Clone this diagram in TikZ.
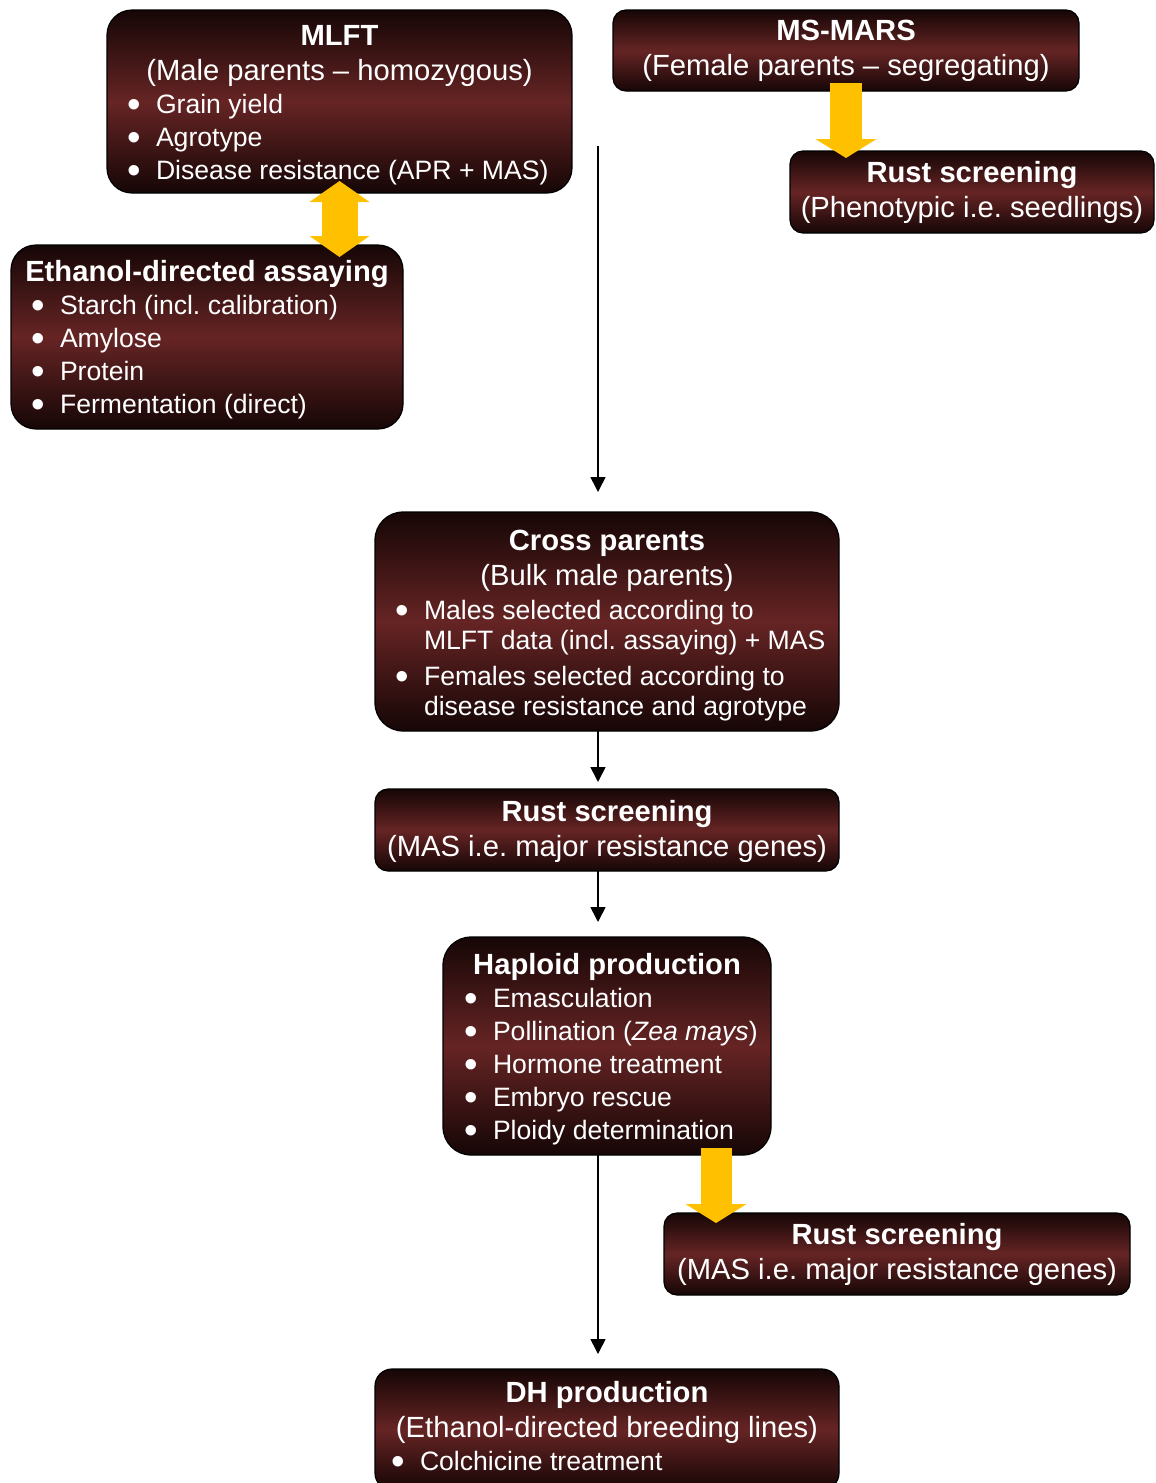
\documentclass[tikz,border=0pt]{standalone}
\usepackage{fontspec}
\usepackage{graphicx}
\setmainfont{Liberation Sans}
\usetikzlibrary{arrows.meta,positioning,calc}

\definecolor{boxdark}{RGB}{22,6,6}
\definecolor{boxred}{RGB}{102,36,36}
\definecolor{arrowgold}{RGB}{255,192,0}

% lines inside the boxes
\newcommand{\itemskip}{33pt}
\newcommand{\wordgap}{\frenchspacing\spaceskip=.278em plus .1em\relax\xspaceskip=\spaceskip}
\newcommand{\boxhead}[1]{{\centering\fontsize{29.2}{34.5}\selectfont\wordgap\bfseries #1\par}}
\newcommand{\boxsub}[1]{{\centering\fontsize{29.2}{34.5}\selectfont\wordgap #1\par}}
\newcommand{\bitem}[2][20pt]{{\raggedright\leftskip=#1\relax\hangindent=28pt\hangafter=1
	\fontsize{26.6}{\itemskip}\selectfont\wordgap
	\noindent\makebox[28pt][l]{\hspace{-1pt}\smash{\raisebox{-4pt}{\scalebox{1.45}{\textbullet}}}}#2\par}}

\tikzset{
	stage/.style={draw=black,line width=1.2pt,rounded corners=25pt,
		top color=boxdark,bottom color=boxdark,middle color=boxred,
		text=white,inner xsep=0pt,inner ysep=0pt,outer sep=0pt,anchor=north west},
	flow/.style={line width=1.6pt,-{Triangle[width=15pt,length=15pt]}},
	bigarrow/.style={arrowgold,line width=32pt},
	goldtip/.tip={Triangle[width=61pt,length=19pt,line width=0pt]},
	twintip/.tip={Triangle[width=60pt,length=21pt,line width=0pt]}
}

\begin{document}
\begin{tikzpicture}[x=1pt,y=-1pt]

	\useasboundingbox (0,0) rectangle (1156,1483);

	\node[stage,text width=465pt,text height=35.5pt,text depth=147.5pt] (mlft) at (107,10) {%
		\boxhead{MLFT}
		\boxsub{(Male parents – homozygous)}
		\bitem[21pt]{Grain yield}
		\bitem[21pt]{Agrotype}
		\bitem[21pt]{Disease resistance (APR + MAS)}};

	\node[stage,rounded corners=13pt,text width=466pt,text height=30.5pt,text depth=50.5pt] (msmars) at (613,10) {%
		\boxhead{MS-MARS}
		\boxsub{(Female parents – segregating)}};

	\node[stage,rounded corners=13pt,text width=364pt,text height=31.5pt,text depth=50.5pt] (rusta) at (790,151) {%
		\boxhead{Rust screening}
		\boxsub{(Phenotypic i.e. seedlings)}};

	\node[stage,text width=392pt,text height=36.5pt,text depth=147.5pt] (ethanol) at (11,245) {%
		\boxhead{Ethanol-directed assaying}
		\bitem[21pt]{Starch (incl. calibration)}
		\bitem[21pt]{Amylose}
		\bitem[21pt]{Protein}
		\bitem[21pt]{Fermentation (direct)}};

	\node[stage,rounded corners=28pt,text width=464pt,text height=38.5pt,text depth=180.5pt] (cross) at (375,512) {%
		\renewcommand{\itemskip}{30pt}%
		\boxhead{Cross parents}
		\boxsub{(Bulk male parents)}
		\vspace{4pt}
		\bitem[21pt]{Males selected according to\newline MLFT data (incl. assaying) + MAS}
		\vspace{6pt}
		\bitem[21pt]{Females selected according to\newline disease resistance and agrotype}};

	\node[stage,rounded corners=13pt,text width=464pt,text height=32.5pt,text depth=49.5pt] (rustb) at (375,789) {%
		\boxhead{Rust screening}
		\boxsub{(MAS i.e. major resistance genes)}};

	\node[stage,rounded corners=28pt,text width=328pt,text height=37.5pt,text depth=180.5pt] (haploid) at (443,937) {%
		\boxhead{Haploid production}
		\bitem[22pt]{Emasculation}
		\bitem[22pt]{Pollination (\textit{Zea mays})}
		\bitem[22pt]{Hormone treatment}
		\bitem[22pt]{Embryo rescue}
		\bitem[22pt]{Ploidy determination}};

	\node[stage,rounded corners=13pt,text width=466pt,text height=31.5pt,text depth=50.5pt] (rustc) at (664,1213) {%
		\boxhead{Rust screening}
		\boxsub{(MAS i.e. major resistance genes)}};

	\node[stage,rounded corners=17pt,text width=464pt,text height=33.5pt,text depth=87.5pt] (dh) at (375,1369) {%
		\boxhead{DH production}
		\boxsub{(Ethanol-directed breeding lines)}
		\bitem[17pt]{Colchicine treatment}};

	% main line down the middle
	\coordinate (feed) at (598,146);
	\draw[flow] (feed) -- ([yshift=20pt]cross.north -| feed);
	\draw[flow] (cross.south -| feed) -- ([yshift=7pt]rustb.north -| feed);
	\draw[flow] (rustb.south -| feed) -- ([yshift=15pt]haploid.north -| feed);
	\draw[flow] (haploid.south -| feed) -- ([yshift=15pt]dh.north -| feed);

	% yellow block arrows
	\draw[bigarrow,line width=36pt,{twintip}-{twintip}]
		([yshift=12pt]mlft.south) -- ([yshift=-12pt]mlft.south |- ethanol.north);
	\draw[bigarrow,-{goldtip}] ([yshift=8pt]msmars.south) -- ([yshift=-7pt]msmars.south |- rusta.north);
	\draw[bigarrow,line width=31pt,-{goldtip}] ([xshift=109pt,yshift=7pt]haploid.south)
		-- ([xshift=109pt,yshift=-10pt]haploid.south |- rustc.north);

\end{tikzpicture}
\end{document}
